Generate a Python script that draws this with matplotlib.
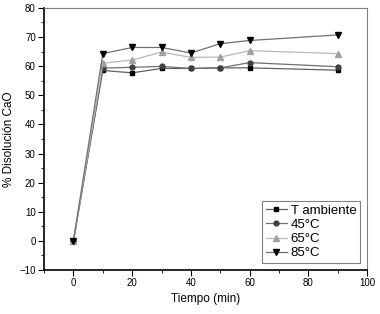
import matplotlib.pyplot as plt
from matplotlib.ticker import MultipleLocator

plt.rcParams['font.family'] = ['Liberation Sans', 'DejaVu Sans']

tiempo = [0, 10, 20, 30, 40, 50, 60, 90]
t_amb = [0, 58.5, 57.7, 59.2, 59.2, 59.4, 59.4, 58.6]
t45 = [0, 59.3, 59.6, 59.9, 59.2, 59.4, 61.2, 59.8]
t65 = [0, 61.0, 62.1, 64.8, 63.0, 63.1, 65.3, 64.3]
t85 = [0, 64.3, 66.4, 66.4, 64.5, 67.7, 68.8, 70.7]

fig = plt.figure(figsize=(3.8, 3.14), dpi=100)
ax = fig.add_axes([0.116, 0.14, 0.85, 0.835])

ax.plot(tiempo, t_amb, color='#606060', lw=0.9, marker='s', ms=3.5,
        mfc='black', mec='black', label='T ambiente')
ax.plot(tiempo, t45, color='#707070', lw=0.9, marker='o', ms=3.5,
        mfc='#404040', mec='#404040', label='45°C')
ax.plot(tiempo, t65, color='#b8b8b8', lw=0.9, marker='^', ms=4,
        mfc='#a0a0a0', mec='#a0a0a0', label='65°C')
ax.plot(tiempo, t85, color='#707070', lw=0.9, marker='v', ms=4,
        mfc='black', mec='black', label='85°C')

ax.set_xlim(-10, 100)
ax.set_ylim(-10, 80)
ax.xaxis.set_major_locator(MultipleLocator(20))
ax.xaxis.set_minor_locator(MultipleLocator(10))
ax.yaxis.set_major_locator(MultipleLocator(10))
ax.yaxis.set_minor_locator(MultipleLocator(5))
ax.tick_params(which='both', direction='out', labelsize=7, top=False, right=False, pad=2)
ax.tick_params(which='major', length=4)
ax.tick_params(which='minor', length=2)

for s in ['left', 'bottom']:
    ax.spines[s].set_color('black')
    ax.spines[s].set_linewidth(1.2)
for s in ['top', 'right']:
    ax.spines[s].set_color('#808080')

ax.set_xlabel('Tiempo (min)', fontsize=8.5, labelpad=3)
ax.set_ylabel('% Disolución CaO', fontsize=8.5, labelpad=3)

leg = ax.legend(loc='lower right', fontsize=9.5, fancybox=False, edgecolor='#606060',
                handlelength=1.6, handletextpad=0.3, borderpad=0.3, labelspacing=0.15,
                borderaxespad=0.5)
leg.get_frame().set_linewidth(0.8)

fig.savefig('out.png')
